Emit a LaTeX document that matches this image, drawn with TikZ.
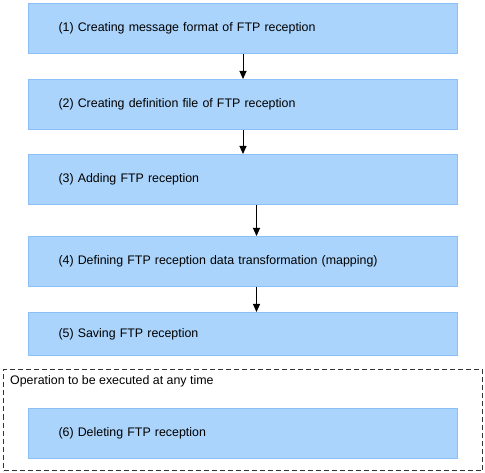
\documentclass[tikz,border=0pt]{standalone}
\usepackage{fontspec}
\setmainfont{Liberation Sans}
\definecolor{stepfill}{RGB}{170, 212, 251}
\definecolor{stepline}{RGB}{138, 192, 247}
\definecolor{framegray}{RGB}{51, 51, 51}
\usetikzlibrary{arrows.meta, positioning}
\tikzset{
	flow/.style={rectangle, draw=stepline, fill=stepfill, line width=1pt, align=left, text width=369pt, inner xsep=30pt, inner ysep=0pt, minimum height=50pt, font=\fontsize{12.4}{14}\selectfont},
	shortflow/.style={flow, minimum height=43pt},
	opframe/.style={rectangle, draw=framegray, dash pattern=on 5pt off 3pt, line width=1pt, minimum width=479pt, minimum height=101pt},
	arrow/.style={-{Triangle[length=8pt, width=7pt]}, line width=1pt, draw=black},
}

\begin{document}
\begin{tikzpicture}
	\useasboundingbox (0pt,0pt) rectangle (485pt,-473pt);
	\node[flow, anchor=north west] (create) at (28pt,-3pt) {(1) Creating message format of FTP reception};
	\node[flow, below=25pt of create] (define) {(2) Creating definition file of FTP reception};
	\node[flow, below=24pt of define] (add) {(3) Adding FTP reception};
	\node[flow, below=31pt of add] (map) {(4) Defining FTP reception data transformation (mapping)};
	\node[shortflow, below=25pt of map] (save) {(5) Saving FTP reception};
	% operation outside the normal order
	\node[opframe, anchor=north west] (anytime) at (3pt,-369pt) {};
	\node[anchor=base west, inner sep=0pt, font=\fontsize{12.4}{14}\selectfont] (anylabel) at ([xshift=7pt, yshift=-15pt]anytime.north west) {Operation to be executed at any time};
	\node[flow, below=52pt of save] (delete) {(6) Deleting FTP reception};
	\draw[arrow] (create) -- (define);
	\draw[arrow] (define) -- (add);
	\draw[arrow] ([xshift=13.5pt]add.south) -- ([xshift=13.5pt]map.north);
	\draw[arrow] ([xshift=13.5pt]map.south) -- ([xshift=13.5pt]save.north);
\end{tikzpicture}
\end{document}
